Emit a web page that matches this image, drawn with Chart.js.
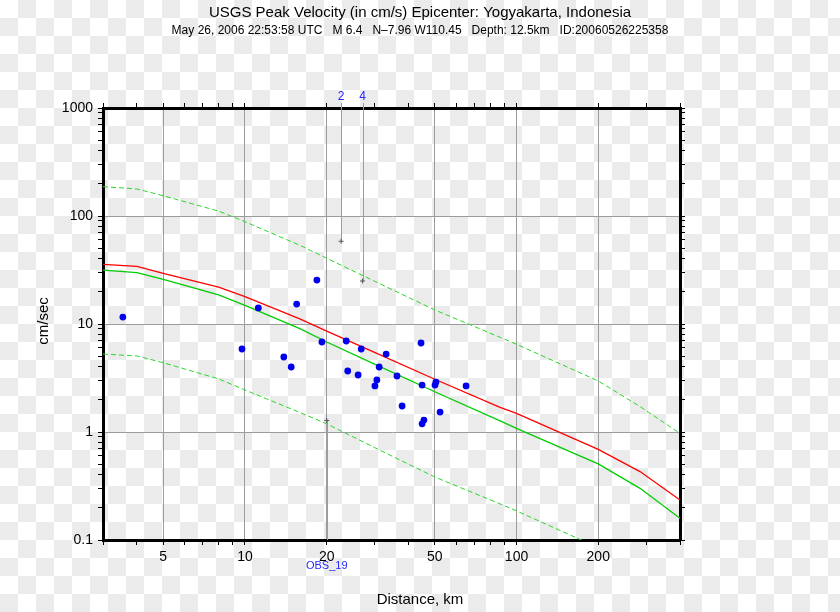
<!DOCTYPE html>
<html><head><meta charset="utf-8">
<script src="https://cdn.jsdelivr.net/npm/chart.js@4.4.0/dist/chart.umd.min.js"></script>
<style>
html,body{margin:0;padding:0;}
body{width:840px;height:612px;overflow:hidden;background:repeating-conic-gradient(#ebebeb 0% 25%, #ffffff 0% 50%) 0 0/36px 36px;}
canvas{display:block;}
</style></head><body>
<canvas id="c" width="840" height="612"></canvas>
<script>
// ---- data ----
const curveDistances = [3, 4, 5, 8, 10, 16, 20, 30, 50, 87, 100, 200, 285, 400];
const redMedian   = [35.7, 34.2, 29.5, 21.9, 17.9, 11.1, 8.6, 5.47, 3.08, 1.69, 1.49, 0.69, 0.43, 0.235];
const greenMedian = [31.6, 29.9, 25.9, 18.6, 14.9, 9.0, 6.81, 4.25, 2.36, 1.27, 1.08, 0.506, 0.301, 0.159];
const greenUpper  = [187, 178, 154, 111, 88.5, 53.3, 40.6, 24.9, 13.5, 7.53, 6.49, 2.97, 1.72, 0.97];
const greenLower  = [5.27, 5.06, 4.38, 3.10, 2.45, 1.51, 1.19, 0.718, 0.383, 0.216, 0.186, 0.085, 0.05, 0.026];

const obsDistances  = [3.55, 9.75, 11.2, 13.9, 14.8, 15.5, 18.4, 19.2, 23.6, 23.9, 26.1, 26.8, 33.1, 31.2, 30.6, 30.1, 36.3, 37.9, 44.5, 44.9, 45.6, 44.9, 50.5, 50.1, 52.3, 65.2];
const obsVelocities = [11.6, 5.87, 14.1, 4.95, 4.0, 15.3, 25.5, 6.81, 6.96, 3.67, 3.37, 5.87, 5.27, 4.0, 3.03, 2.67, 3.30, 1.74, 6.67, 2.72, 1.29, 1.19, 2.90, 2.72, 1.53, 2.67];

const stationLabels     = ['2', '4', 'OBS_19'];
const stationDistances  = [22.6, 27.1, 20.0];
const stationVelocities = [58.3, 25.0, 1.28];
const stationSide       = ['top', 'top', 'bottom'];

const xTickLabels = [5, 10, 20, 50, 100, 200];
const yTickLabels = [0.1, 1, 10, 100, 1000];

const titleText    = 'USGS Peak Velocity (in cm/s) Epicenter: Yogyakarta, Indonesia';
const subtitleText = 'May 26, 2006 22:53:58 UTC   M 6.4   N\u20137.96 W110.45   Depth: 12.5km   ID:20060526225358';
const xTitle = 'Distance, km';
const yTitle = 'cm/sec';

// ---- helpers ----
const mantissas = [1,2,3,4,5,6,7,8,9];
function logTicks(lo, hi){
  const out = [];
  for (let e = -2; e <= 4; e++) for (const m of mantissas){
    const v = parseFloat((m * Math.pow(10, e)).toPrecision(6));
    if (v >= lo - 1e-9 && v <= hi + 1e-9) out.push(v);
  }
  return out;
}
const xTickValues = logTicks(3, 400);
const yTickValues = logTicks(0.1, 1000);
const isIn = (arr, v) => arr.some(m => Math.abs(m - v) / m < 1e-6);
const pts = (xs, ys) => xs.map((d, i) => ({x: d, y: ys[i]}));

Chart.defaults.font.family = '"Liberation Sans", Arial, sans-serif';
Chart.defaults.color = '#000';

const FONT = '"Liberation Sans", Arial, sans-serif';
const annot = {
  id: 'annot',
  beforeDatasetsDraw(chart){
    const {ctx, chartArea: a, scales: {x, y}} = chart;
    ctx.save();
    ctx.strokeStyle = 'rgb(150,150,215)';
    ctx.lineWidth = 1;
    stationLabels.forEach((lab, i) => {
      const px = Math.round(x.getPixelForValue(stationDistances[i])) + 0.5;
      const py = y.getPixelForValue(stationVelocities[i]);
      ctx.beginPath();
      if (stationSide[i] === 'top'){ ctx.moveTo(px, a.top - 5); ctx.lineTo(px, py); }
      else { ctx.moveTo(px, py); ctx.lineTo(px, a.bottom); }
      ctx.stroke();
    });
    ctx.restore();
  },
  afterDraw(chart){
    const {ctx, chartArea: a, scales: {x, y}} = chart;
    ctx.save();
    ctx.fillStyle = '#000';
    ctx.textAlign = 'center';
    ctx.textBaseline = 'middle';
    ctx.font = '15px ' + FONT;
    ctx.fillText(titleText, 420, 13);
    ctx.font = '12px ' + FONT;
    ctx.fillText(subtitleText, 420, 31);
    ctx.font = '15px ' + FONT;
    ctx.fillText(xTitle, 420, 600);
    // station labels
    ctx.fillStyle = 'rgb(40,40,255)';
    stationLabels.forEach((lab, i) => {
      const px = x.getPixelForValue(stationDistances[i]);
      if (stationSide[i] === 'top'){ ctx.font = '12px ' + FONT; ctx.fillText(lab, px, a.top - 11); }
      else { ctx.font = '11px ' + FONT; ctx.fillText(lab, px, a.bottom + 26); }
    });
    ctx.fillStyle = '#000';
    ctx.font = '15px ' + FONT;
    ctx.translate(44, 321);
    ctx.rotate(-Math.PI / 2);
    ctx.fillText(yTitle, 0, 0);
    ctx.restore();
  }
};

function xScale(pos, labels){
  return {
    type: 'logarithmic', position: pos, min: 3, max: 400,
    afterBuildTicks: s => { s.ticks = xTickValues.map(v => ({value: v})); },
    afterFit: s => { s.height = pos === 'bottom' ? 72 : 108; },
    ticks: {display: labels, autoSkip: false, maxRotation: 0, minRotation: 0, padding: 4, color: '#000', font: {size: 14},
      callback: v => isIn(xTickLabels, v) ? String(v) : ''},
    grid: {drawOnChartArea: pos === 'bottom', color: c => (c.tick && isIn(xTickLabels, c.tick.value)) ? '#9c9c9c' : 'rgba(0,0,0,0)',
      lineWidth: 1, tickColor: '#000', tickLength: 5, tickWidth: 1},
    border: {display: true, color: '#000', width: 3}
  };
}
function yScale(pos, labels){
  return {
    type: 'logarithmic', position: pos, min: 0.1, max: 1000,
    afterBuildTicks: s => { s.ticks = yTickValues.map(v => ({value: v})); },
    afterFit: s => { s.width = pos === 'left' ? 103 : 160; },
    ticks: {display: labels, autoSkip: false, padding: 5, color: '#000', font: {size: 14},
      callback: v => isIn(yTickLabels, v) ? String(v) : ''},
    grid: {drawOnChartArea: pos === 'left', color: c => (c.tick && isIn(yTickLabels, c.tick.value)) ? '#9c9c9c' : 'rgba(0,0,0,0)',
      lineWidth: 1, tickColor: '#000', tickLength: 5, tickWidth: 1},
    border: {display: true, color: '#000', width: 3}
  };
}

new Chart(document.getElementById('c'), {
  type: 'scatter',
  data: {datasets: [
    {label: 'observed', data: pts(obsDistances, obsVelocities), pointRadius: 3.4, backgroundColor: 'rgb(0,0,235)', borderWidth: 0, showLine: false},
    {label: 'stations', data: pts(stationDistances, stationVelocities), pointStyle: 'cross', pointRadius: 2.5, borderColor: '#555', backgroundColor: '#555', borderWidth: 1, showLine: false},
    {label: 'red', data: pts(curveDistances, redMedian), showLine: true, borderColor: 'rgb(255,0,0)', borderWidth: 1.3, pointRadius: 0, tension: 0},
    {label: 'green', data: pts(curveDistances, greenMedian), showLine: true, borderColor: 'rgb(0,205,0)', borderWidth: 1.3, pointRadius: 0, tension: 0},
    {label: 'upper', data: pts(curveDistances, greenUpper), showLine: true, borderColor: 'rgb(40,215,40)', borderWidth: 1, borderDash: [5, 3], pointRadius: 0, tension: 0},
    {label: 'lower', data: pts(curveDistances, greenLower), showLine: true, borderColor: 'rgb(40,215,40)', borderWidth: 1, borderDash: [5, 3], pointRadius: 0, tension: 0}
  ]},
  options: {
    responsive: false, animation: false, events: [],
    layout: {padding: 0},
    plugins: {legend: {display: false}, tooltip: {enabled: false}, title: {display: false}},
    scales: {
      x: xScale('bottom', true),
      x2: xScale('top', false),
      y: yScale('left', true),
      y2: yScale('right', false)
    }
  },
  plugins: [annot]
});
</script>
</body></html>
